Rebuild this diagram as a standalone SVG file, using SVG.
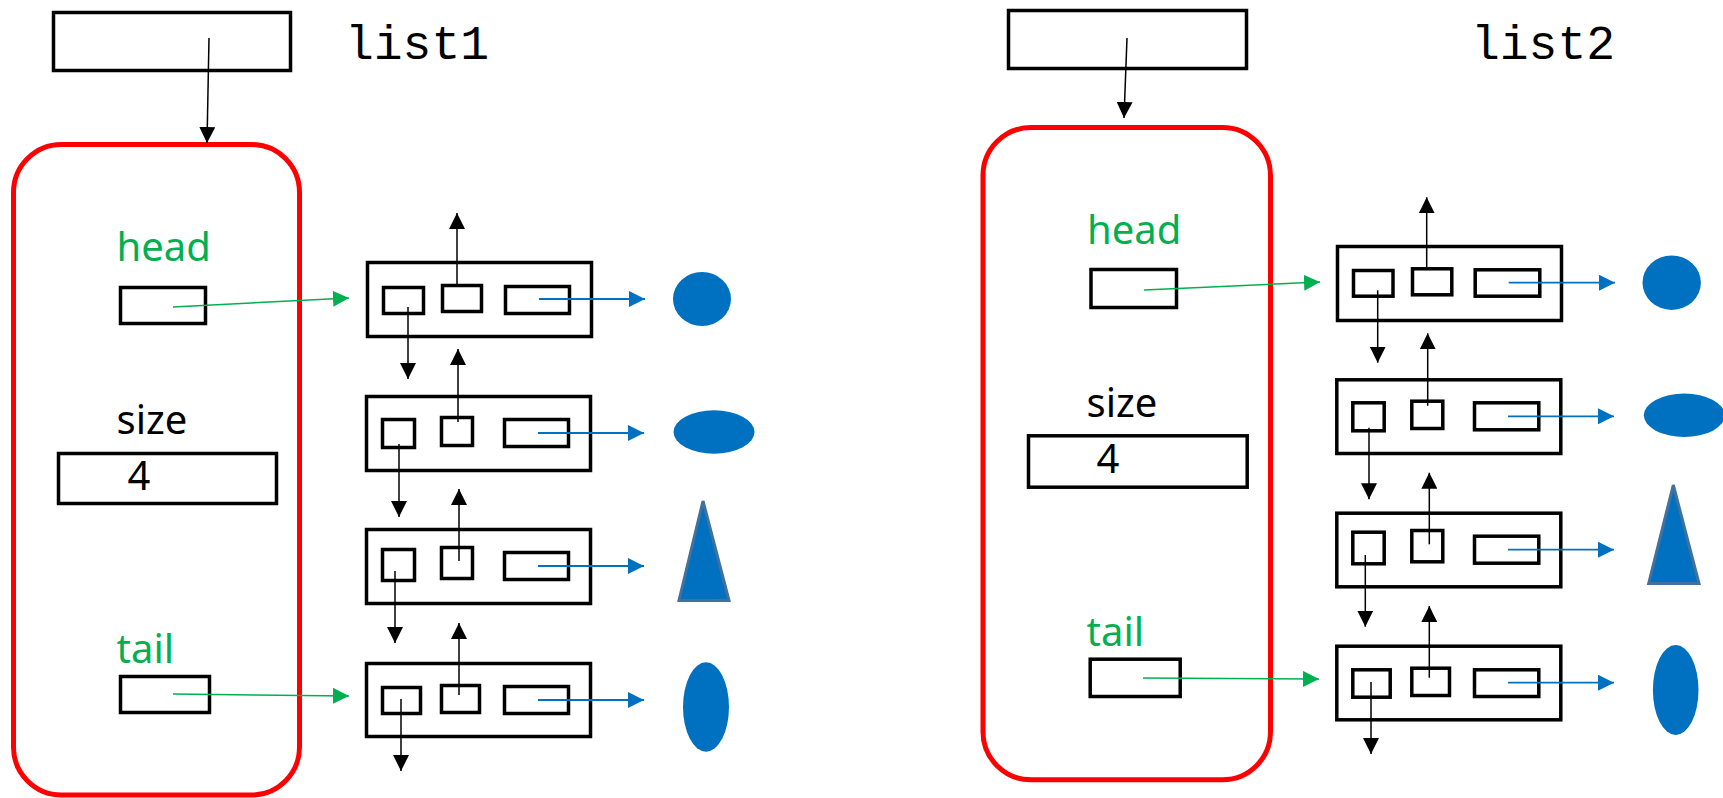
<svg xmlns="http://www.w3.org/2000/svg" width="1723" height="798" viewBox="0 0 1723 798">
  <defs>
    <marker id="ah-black" markerUnits="userSpaceOnUse" markerWidth="16" markerHeight="16" refX="16" refY="8" orient="auto">
      <path d="M0,0 L16,8 L0,16 z" fill="#000"/>
    </marker>
    <marker id="ah-green" markerUnits="userSpaceOnUse" markerWidth="16" markerHeight="16" refX="16" refY="8" orient="auto">
      <path d="M0,0 L16,8 L0,16 z" fill="#00B050"/>
    </marker>
    <marker id="ah-blue" markerUnits="userSpaceOnUse" markerWidth="16" markerHeight="16" refX="16" refY="8" orient="auto">
      <path d="M0,0 L16,8 L0,16 z" fill="#0070C0"/>
    </marker>
  </defs>
  <style>
    .box { fill: #fff; stroke: #000; stroke-width: 3.5; }
    .cell { fill: none; stroke: #000; stroke-width: 3.5; }
    .frame { fill: none; stroke: #FF0000; stroke-width: 5; }
    .lbl { font-family: "Noto Sans", "Open Sans", sans-serif; font-size: 40px; }
    .green { fill: #00B050; }
    .mono { font-family: "Liberation Mono", "Courier New", monospace; font-size: 48px; fill: #000; }
    .ptr { stroke: #000; stroke-width: 1.5; fill: none; marker-end: url(#ah-black); }
    .gptr { stroke: #00B050; stroke-width: 1.5; fill: none; marker-end: url(#ah-green); }
    .bptr { stroke: #0070C0; stroke-width: 1.8; fill: none; marker-end: url(#ah-blue); }
    .shape { fill: #0070C0; }
    .tri { fill: #0070C0; stroke: #41719C; stroke-width: 3; }
  </style>
  <rect width="1723" height="798" fill="#fff"/>

  <!-- ===== list1 ===== -->
  <g id="list1-var">
    <rect class="box" x="53.5" y="12.5" width="237" height="58"/>
    <text class="mono" x="345" y="59">list1</text>
  </g>
  <g id="list1-object">
    <rect class="frame" x="13.5" y="144.5" width="286" height="650.5" rx="48"/>
    <text class="lbl green" x="116.5" y="261">head</text>
    <rect class="box" x="120.5" y="287.5" width="85" height="36"/>
    <text class="lbl" x="116.5" y="434">size</text>
    <rect class="box" x="58.5" y="453.5" width="218" height="50"/>
    <text class="lbl" x="127.5" y="490">4</text>
    <text class="lbl green" x="116.5" y="663">tail</text>
    <rect class="box" x="120.5" y="676.5" width="89" height="36"/>
  </g>
  <g id="list1-node1">
    <rect class="box" x="367.5" y="262.5" width="224" height="74"/>
    <rect class="cell" x="383.5" y="287.5" width="40" height="26"/>
    <rect class="cell" x="442.5" y="285.5" width="39" height="26"/>
    <rect class="cell" x="505.5" y="286.5" width="64" height="27"/>
  </g>
  <g id="list1-node2">
    <rect class="box" x="366.5" y="396.5" width="224" height="74"/>
    <rect class="cell" x="382.5" y="419.5" width="32" height="28"/>
    <rect class="cell" x="441.5" y="417.5" width="31" height="28"/>
    <rect class="cell" x="504.5" y="419.5" width="64" height="27"/>
  </g>
  <g id="list1-node3">
    <rect class="box" x="366.5" y="529.5" width="224" height="74"/>
    <rect class="cell" x="382.5" y="549.5" width="32" height="31"/>
    <rect class="cell" x="441.5" y="547.5" width="31" height="31"/>
    <rect class="cell" x="504.5" y="552.5" width="64" height="27"/>
  </g>
  <g id="list1-node4">
    <rect class="box" x="366.5" y="663.5" width="224" height="73"/>
    <rect class="cell" x="382.5" y="687.5" width="38" height="26"/>
    <rect class="cell" x="441.5" y="685.5" width="38" height="27"/>
    <rect class="cell" x="504.5" y="686.5" width="64" height="27"/>
  </g>
  <g id="list1-data">
    <ellipse class="shape" cx="702" cy="299" rx="29" ry="27"/>
    <ellipse class="shape" cx="714" cy="432" rx="40.5" ry="21.7"/>
    <polygon class="tri" points="703,501 679,600.5 729,600.5"/>
    <ellipse class="shape" cx="706" cy="707" rx="23" ry="44.7"/>
  </g>

  <!-- ===== list2 ===== -->
  <g id="list2-var">
    <rect class="box" x="1008.5" y="10.5" width="238" height="58"/>
    <text class="mono" x="1471" y="59">list2</text>
  </g>
  <g id="list2-object">
    <rect class="frame" x="983" y="127.5" width="287.5" height="652.3" rx="48"/>
    <text class="lbl green" x="1087" y="244">head</text>
    <rect class="box" x="1091" y="269.5" width="85.5" height="38"/>
    <text class="lbl" x="1086.5" y="417">size</text>
    <rect class="box" x="1028.5" y="435.8" width="218.7" height="51.4"/>
    <text class="lbl" x="1096.5" y="473">4</text>
    <text class="lbl green" x="1086.5" y="646">tail</text>
    <rect class="box" x="1090.2" y="659.2" width="90" height="37.3"/>
  </g>
  <g id="list2-node1">
    <rect class="box" x="1337.5" y="246.5" width="224" height="74"/>
    <rect class="cell" x="1353.5" y="270.5" width="39.5" height="25.7"/>
    <rect class="cell" x="1412.5" y="268.8" width="39.3" height="26"/>
    <rect class="cell" x="1475.2" y="269.8" width="64.6" height="26.4"/>
  </g>
  <g id="list2-node2">
    <rect class="box" x="1336.8" y="379.8" width="224" height="73.7"/>
    <rect class="cell" x="1352.8" y="402.8" width="31.4" height="28"/>
    <rect class="cell" x="1411.8" y="401.2" width="31" height="27.3"/>
    <rect class="cell" x="1474.5" y="402.8" width="64.3" height="27"/>
  </g>
  <g id="list2-node3">
    <rect class="box" x="1336.8" y="513.2" width="224" height="73.6"/>
    <rect class="cell" x="1352.8" y="532.2" width="31.4" height="31.6"/>
    <rect class="cell" x="1411.8" y="530.5" width="31" height="31.3"/>
    <rect class="cell" x="1474.5" y="536.2" width="64.3" height="27"/>
  </g>
  <g id="list2-node4">
    <rect class="box" x="1336.8" y="646.2" width="224" height="73.6"/>
    <rect class="cell" x="1352.8" y="669.8" width="37.4" height="27.4"/>
    <rect class="cell" x="1411.8" y="668.2" width="37.7" height="27.3"/>
    <rect class="cell" x="1474.5" y="669.8" width="64.3" height="26.7"/>
  </g>
  <g id="list2-data">
    <ellipse class="shape" cx="1671.7" cy="282.7" rx="29.2" ry="27.2"/>
    <ellipse class="shape" cx="1684.3" cy="415.3" rx="40.5" ry="21.7"/>
    <polygon class="tri" points="1673.3,485 1648.7,583.5 1699,583.5"/>
    <ellipse class="shape" cx="1675.7" cy="690" rx="22.8" ry="45"/>
  </g>

  <!-- ===== pointers ===== -->
  <g id="connectors">
    <!-- list1 -->
    <line class="ptr" x1="209" y1="38" x2="207" y2="143"/>
    <line class="gptr" x1="173" y1="307" x2="349" y2="298"/>
    <line class="gptr" x1="173" y1="694" x2="349" y2="696"/>
    <line class="ptr" x1="457" y1="284" x2="457" y2="213"/>
    <line class="ptr" x1="408" y1="307" x2="408" y2="379"/>
    <line class="ptr" x1="458" y1="422" x2="458" y2="349"/>
    <line class="ptr" x1="399" y1="444" x2="399" y2="517"/>
    <line class="ptr" x1="459" y1="561" x2="459" y2="489"/>
    <line class="ptr" x1="395" y1="571" x2="395" y2="643"/>
    <line class="ptr" x1="459" y1="695" x2="459" y2="623"/>
    <line class="ptr" x1="401" y1="699" x2="401" y2="771"/>
    <line class="bptr" x1="539" y1="299" x2="645" y2="299"/>
    <line class="bptr" x1="538" y1="433" x2="644" y2="433"/>
    <line class="bptr" x1="538" y1="566" x2="644" y2="566"/>
    <line class="bptr" x1="538" y1="700" x2="644" y2="700"/>
    <!-- list2 -->
    <line class="ptr" x1="1127" y1="38" x2="1124" y2="118"/>
    <line class="gptr" x1="1144" y1="290" x2="1320" y2="282"/>
    <line class="gptr" x1="1143" y1="678" x2="1319" y2="679"/>
    <line class="ptr" x1="1426.7" y1="267" x2="1426.7" y2="197.3"/>
    <line class="ptr" x1="1377.7" y1="290.3" x2="1377.7" y2="362.7"/>
    <line class="ptr" x1="1427.7" y1="405.7" x2="1427.7" y2="333.3"/>
    <line class="ptr" x1="1369" y1="427.7" x2="1369" y2="499.3"/>
    <line class="ptr" x1="1429.3" y1="544.3" x2="1429.3" y2="472.7"/>
    <line class="ptr" x1="1365.3" y1="555" x2="1365.3" y2="626.7"/>
    <line class="ptr" x1="1429.3" y1="677.7" x2="1429.3" y2="606"/>
    <line class="ptr" x1="1371" y1="682" x2="1371" y2="754"/>
    <line class="bptr" x1="1508.7" y1="282.7" x2="1615" y2="282.7"/>
    <line class="bptr" x1="1508" y1="416.3" x2="1614" y2="416.3"/>
    <line class="bptr" x1="1508" y1="549.7" x2="1614" y2="549.7"/>
    <line class="bptr" x1="1508" y1="682.7" x2="1614" y2="682.7"/>
  </g>
</svg>
